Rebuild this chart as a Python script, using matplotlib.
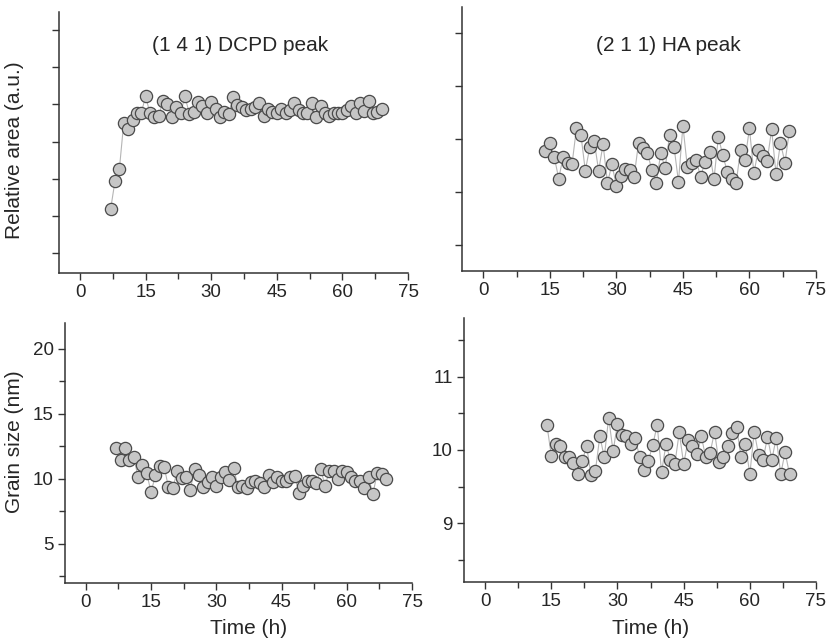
import matplotlib
matplotlib.use("Agg")
import matplotlib.pyplot as plt
from matplotlib.ticker import MultipleLocator, NullFormatter

plt.rcParams["font.family"] = ["Liberation Sans", "DejaVu Sans"]

# Relative area, (1 4 1) DCPD peak, hourly from 7 h to 69 h
dcpd_time = list(range(7, 70))
dcpd_area = [
    2.18, 2.94, 3.26, 4.51, 4.34, 4.58, 4.76, 4.77, 5.22, 4.76,
    4.67, 4.69, 5.10, 5.01, 4.67, 4.92, 4.76, 5.22, 4.74, 4.80,
    5.07, 4.95, 4.77, 5.07, 4.89, 4.67, 4.80, 4.74, 5.19, 4.98,
    4.94, 4.85, 4.87, 4.94, 5.04, 4.69, 4.89, 4.80, 4.77, 4.87,
    4.77, 4.85, 5.04, 4.85, 4.77, 4.77, 5.03, 4.65, 4.95, 4.77,
    4.69, 4.76, 4.76, 4.76, 4.85, 4.95, 4.76, 5.04, 4.83, 5.10,
    4.76, 4.80, 4.87,
]

# Relative area, (2 1 1) HA peak, hourly from 14 h to 69 h
ha_time = list(range(14, 70))
ha_area = [
    2.77, 2.93, 2.66, 2.25, 2.66, 2.54, 2.52, 3.20, 3.08, 2.40,
    2.84, 2.96, 2.40, 2.90, 2.17, 2.52, 2.11, 2.30, 2.44, 2.41,
    2.28, 2.93, 2.82, 2.74, 2.41, 2.17, 2.73, 2.45, 3.08, 2.85,
    2.19, 3.25, 2.47, 2.54, 2.60, 2.28, 2.57, 2.76, 2.24, 3.04,
    2.69, 2.38, 2.25, 2.17, 2.80, 2.61, 3.20, 2.35, 2.80, 2.67,
    2.59, 3.18, 2.33, 2.93, 2.55, 3.15,
]

# Grain size (nm), DCPD
dcpd_grain = [
    12.36, 11.46, 12.36, 11.46, 11.72, 10.13, 11.10, 10.44, 8.97, 10.33,
    11.03, 10.95, 9.36, 9.31, 10.59, 10.05, 10.13, 9.15, 10.77, 10.33,
    9.36, 9.74, 10.13, 9.49, 10.13, 10.51, 9.92, 10.85, 9.36, 9.49,
    9.31, 9.74, 9.82, 9.67, 9.36, 10.33, 9.74, 10.13, 9.87, 9.87,
    10.13, 10.26, 8.90, 9.49, 9.87, 9.87, 9.67, 10.77, 9.49, 10.59,
    10.59, 10.00, 10.59, 10.51, 10.13, 9.87, 9.87, 9.31, 10.13, 8.85,
    10.44, 10.38, 10.00,
]

# Grain size (nm), HA
ha_grain = [
    10.34, 9.92, 10.08, 10.05, 9.91, 9.91, 9.82, 9.67, 9.85, 10.05,
    9.66, 9.72, 10.19, 9.90, 10.44, 9.98, 10.36, 10.21, 10.19, 10.08,
    10.16, 9.91, 9.73, 9.85, 10.07, 10.34, 9.70, 10.08, 9.86, 9.81,
    10.24, 9.81, 10.13, 10.05, 9.94, 10.19, 9.90, 9.96, 10.25, 9.83,
    9.91, 10.06, 10.23, 10.31, 9.91, 10.08, 9.67, 10.25, 9.93, 9.86,
    10.18, 9.87, 10.17, 9.67, 9.97, 9.67,
]

TEXT = "#262626"
TICK_FS = 13.5
LABEL_FS = 15

fig = plt.figure(figsize=(8.29, 6.42), dpi=100)
ax_tl = fig.add_axes([0.0712, 0.5748, 0.421, 0.4065])
ax_tr = fig.add_axes([0.5573, 0.5779, 0.427, 0.4112])
ax_bl = fig.add_axes([0.0784, 0.0919, 0.4186, 0.405])
ax_br = fig.add_axes([0.5597, 0.0935, 0.4246, 0.4112])


def style_axes(ax):
    for side in ("top", "right"):
        ax.spines[side].set_visible(False)
    for side in ("left", "bottom"):
        ax.spines[side].set_linewidth(1.1)
        ax.spines[side].set_color("#333333")
    ax.set_xlim(-4.8, 75)
    ax.xaxis.set_major_locator(MultipleLocator(15))
    ax.xaxis.set_minor_locator(MultipleLocator(7.5))
    ax.tick_params(which="major", direction="out", length=5, width=1.0,
                   color="#333333", labelsize=TICK_FS, labelcolor=TEXT, pad=3)
    ax.tick_params(which="minor", direction="out", length=4, width=1.0,
                   color="#333333")


def draw_series(ax, t, y):
    ax.plot(t, y, color="#b5b5b5", lw=0.8, zorder=1)
    ax.plot(t, y, ls="none", marker="o", ms=8.8, mfc="#c6c6c6",
            mec="#4a4a4a", mew=0.9, zorder=2)


for ax in (ax_tl, ax_tr, ax_bl, ax_br):
    style_axes(ax)

draw_series(ax_tl, dcpd_time, dcpd_area)
draw_series(ax_tr, ha_time, ha_area)
draw_series(ax_bl, dcpd_time, dcpd_grain)
draw_series(ax_br, ha_time, ha_grain)

# top row: arbitrary units, no y labels
ax_tl.set_ylim(0.46, 7.49)
ax_tl.yaxis.set_major_locator(MultipleLocator(1))
ax_tl.yaxis.set_major_formatter(NullFormatter())
ax_tr.set_ylim(0.5, 5.5)
ax_tr.yaxis.set_major_locator(MultipleLocator(1))
ax_tr.yaxis.set_major_formatter(NullFormatter())

ax_bl.set_ylim(2, 22)
ax_bl.yaxis.set_major_locator(MultipleLocator(5))
ax_bl.yaxis.set_minor_locator(MultipleLocator(2.5))
ax_br.set_ylim(8.2, 11.8)
ax_br.yaxis.set_major_locator(MultipleLocator(1))
ax_br.yaxis.set_minor_locator(MultipleLocator(0.5))

ax_tl.text(0.52, 0.873, "(1 4 1) DCPD peak", transform=ax_tl.transAxes,
           ha="center", va="center", fontsize=LABEL_FS, color=TEXT)
ax_tr.text(0.582, 0.853, "(2 1 1) HA peak", transform=ax_tr.transAxes,
           ha="center", va="center", fontsize=LABEL_FS, color=TEXT)

ax_tl.set_ylabel("Relative area (a.u.)", fontsize=LABEL_FS, color=TEXT)
ax_tl.yaxis.set_label_coords(-0.1, 0.469)
ax_bl.set_ylabel("Grain size (nm)", fontsize=LABEL_FS, color=TEXT)
ax_bl.yaxis.set_label_coords(-0.118, 0.543)

for ax in (ax_bl, ax_br):
    ax.set_xlabel("Time (h)", fontsize=LABEL_FS, color=TEXT)
    ax.xaxis.set_label_coords(0.53, -0.14)

fig.savefig("out.png", dpi=100)
